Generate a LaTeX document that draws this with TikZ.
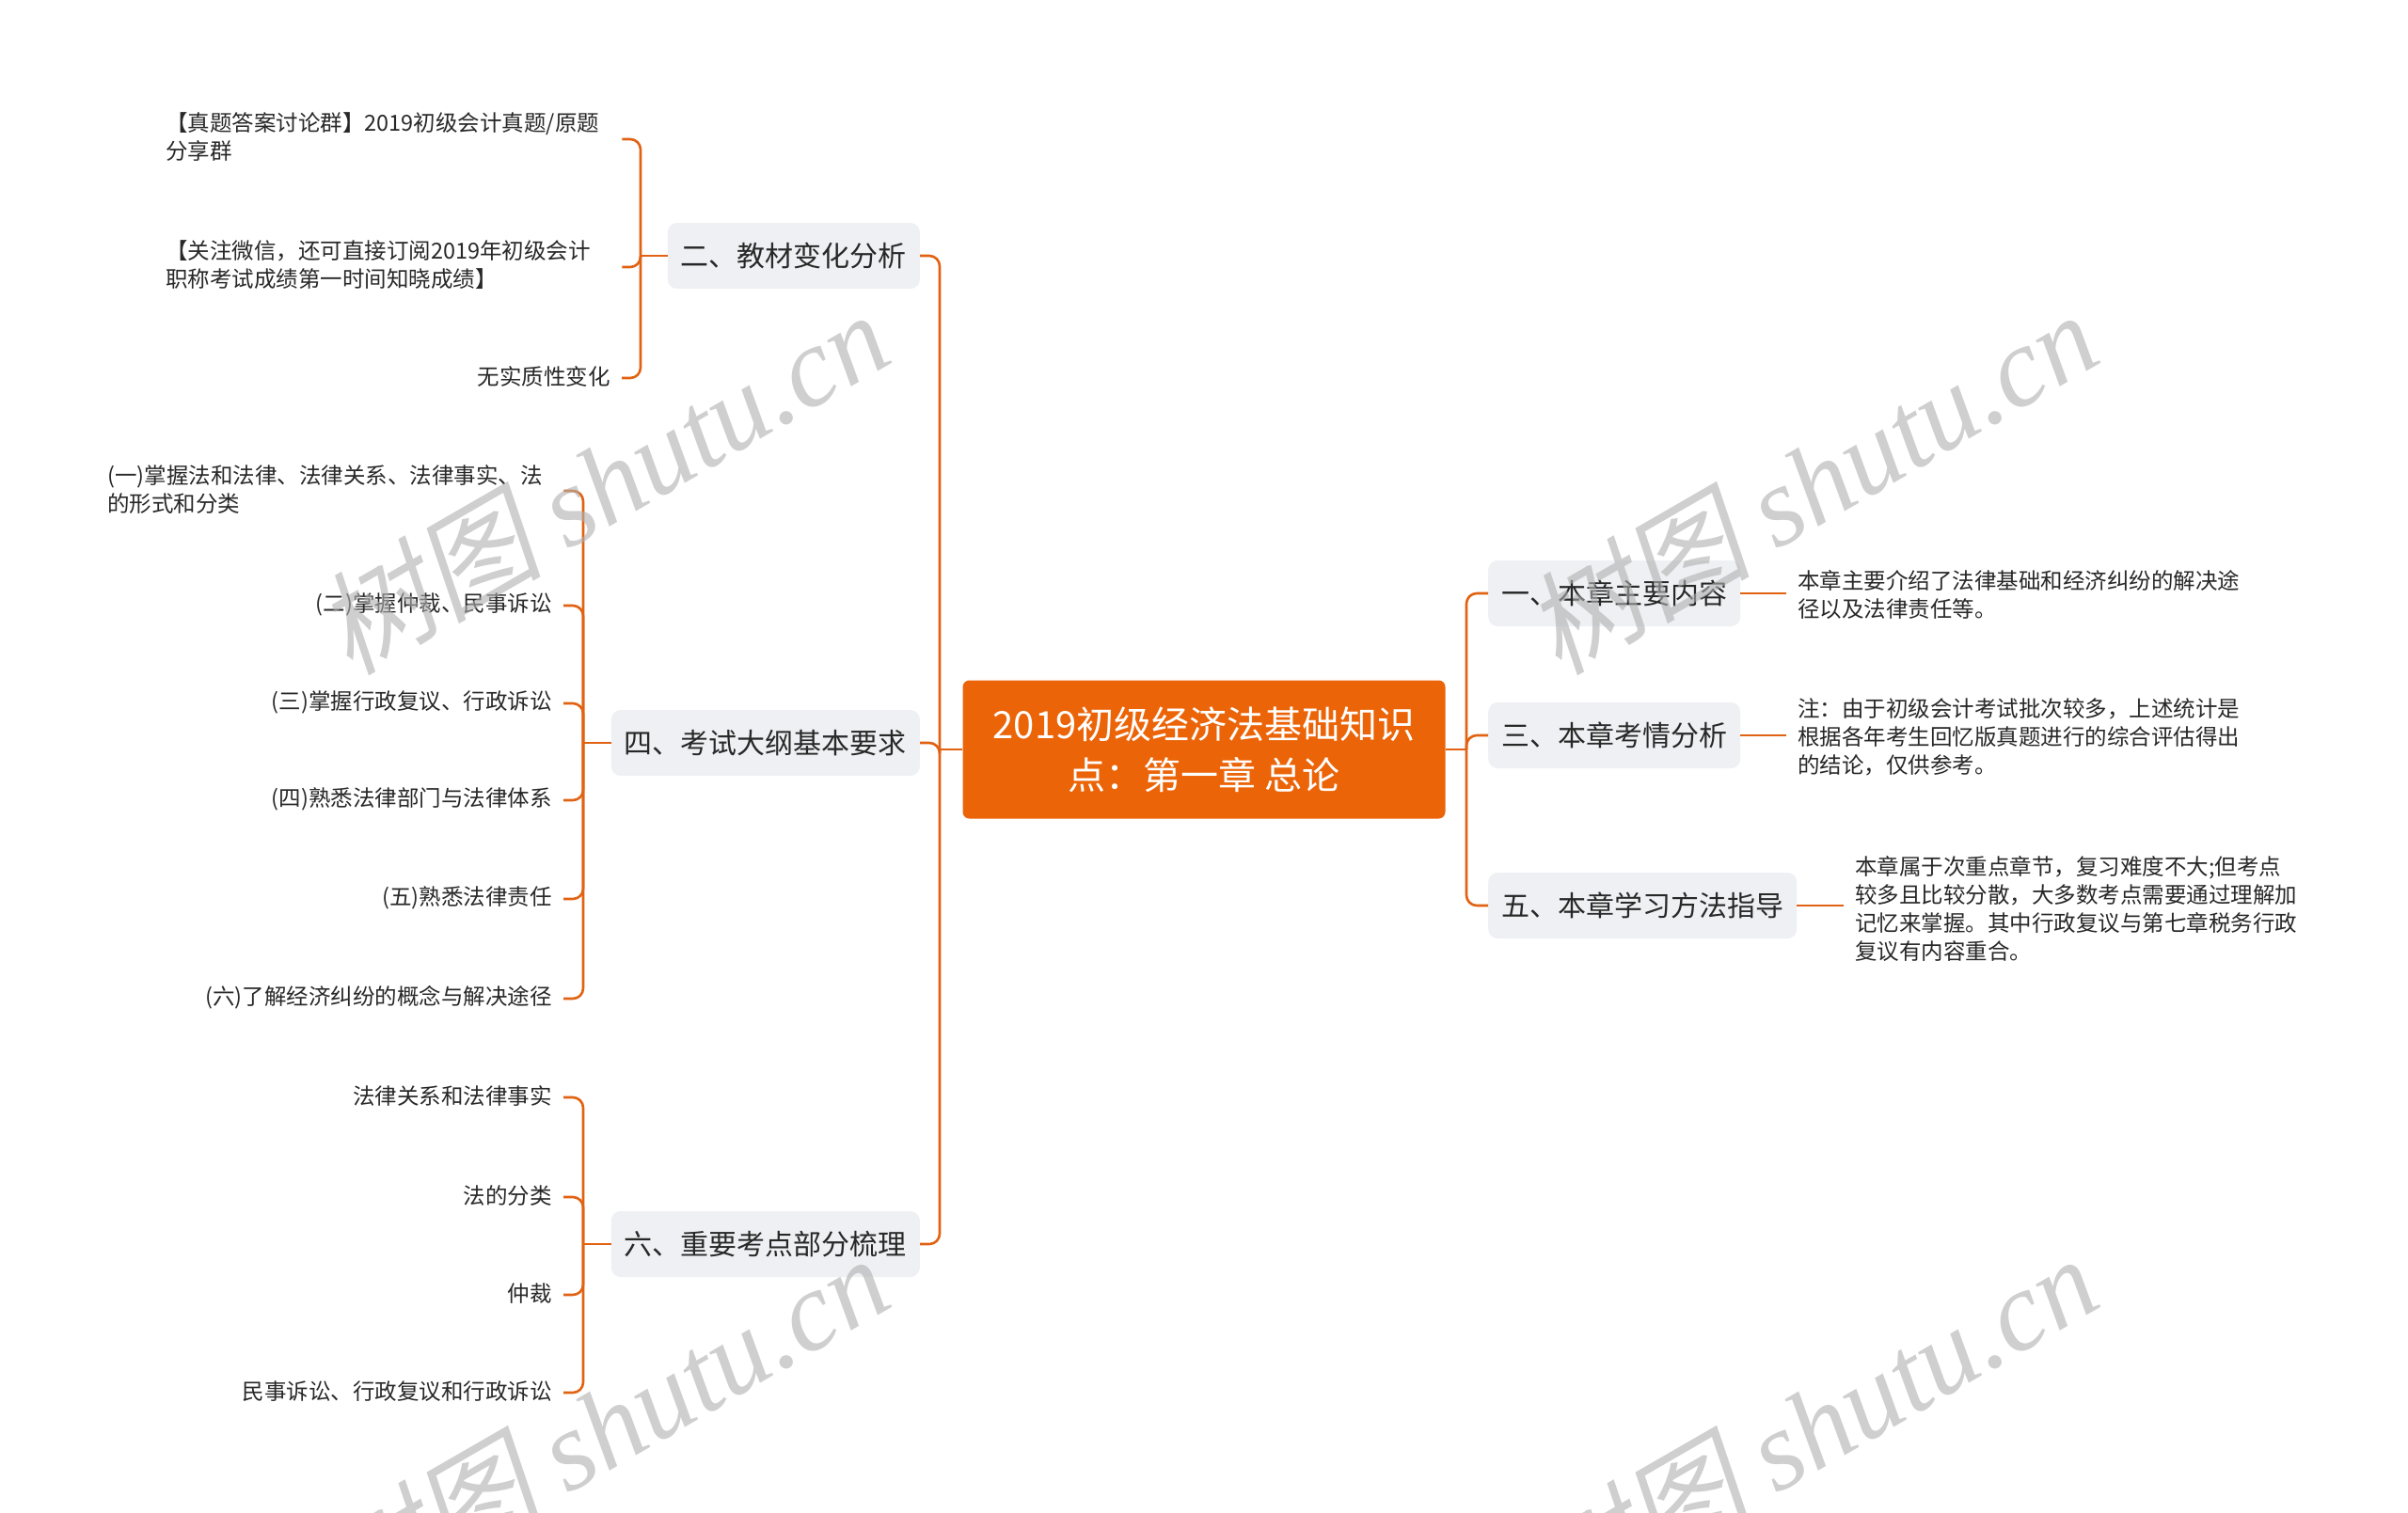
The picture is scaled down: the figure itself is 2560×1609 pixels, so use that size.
\documentclass[tikz,border=0pt]{standalone}
\usepackage{fontspec}
\setmainfont{Noto Sans CJK SC}
\newfontfamily\wmlatin{Liberation Serif}
\newfontfamily\wmcjk[FakeSlant=0.2]{Noto Sans CJK SC}
\definecolor{lineor}{RGB}{225,98,18}
\definecolor{rootor}{RGB}{236,100,8}
\definecolor{boxgray}{RGB}{238,240,243}
\definecolor{txt}{RGB}{40,40,40}
\definecolor{wm}{RGB}{175,175,175}
\tikzset{
  conn/.style={draw=lineor, line width=2.6pt, rounded corners=11pt},
  rootbox/.style={fill=rootor, rounded corners=7pt, text=white, minimum width=513pt, minimum height=147pt, align=center, font=\fontsize{40}{54}\selectfont, inner sep=0pt},
  topic/.style={fill=boxgray, rounded corners=10pt, text=txt, minimum height=70pt, inner xsep=14pt, inner ysep=0pt, font=\fontsize{30}{36}\selectfont},
  leaf/.style={text=txt, font=\fontsize{23.5}{30}\selectfont, inner ysep=2pt, inner xsep=12pt},
  leafml/.style={leaf, align=left, inner xsep=0pt, text width=485pt, anchor=west},
  leafr/.style={leaf, align=left, anchor=west},
  wmark/.style={text=wm, opacity=0.6, rotate=30, inner sep=0pt, font=\fontsize{120}{130}\selectfont}
}
\begin{document}
\begin{tikzpicture}[x=1pt,y=-1pt]
\useasboundingbox (0,0) rectangle (2560,1609);
\fill[white] (0,0) rectangle (2560,1609);

% root
\node[rootbox] (root) at (1280,797) {2019初级经济法基础知识\\点：第一章 总论};
\coordinate (LT) at (999,797);
\coordinate (RT) at (1559,797);

% left topics
\node[topic, anchor=east] (n2) at (978,272) {二、教材变化分析};
\node[topic, anchor=east] (n4) at (978,790) {四、考试大纲基本要求};
\node[topic, anchor=east] (n6) at (978,1323) {六、重要考点部分梳理};

% right topics
\node[topic, anchor=west] (n1) at (1582,631) {一、本章主要内容};
\node[topic, anchor=west] (n3) at (1582,782) {三、本章考情分析};
\node[topic, anchor=west] (n5) at (1582,963) {五、本章学习方法指导};

% group 2 leaves
\coordinate (b2) at (681,272);
\node[leafml] (l21) at (176,146) {【真题答案讨论群】2019初级会计真题/原题\\分享群};
\node[leafml] (l22) at (176,282) {【关注微信，还可直接订阅2019年初级会计\\职称考试成绩第一时间知晓成绩】};
\node[leaf, anchor=east] (l23) at (661,400) {无实质性变化};

% group 4 leaves
\coordinate (b4) at (620,790);
\node[leafml] (l41) at (114,521) {(一)掌握法和法律、法律关系、法律事实、法\\的形式和分类};
\node[leaf, anchor=east] (l42) at (599,643) {(二)掌握仲裁、民事诉讼};
\node[leaf, anchor=east] (l43) at (599,747) {(三)掌握行政复议、行政诉讼};
\node[leaf, anchor=east] (l44) at (599,850) {(四)熟悉法律部门与法律体系};
\node[leaf, anchor=east] (l45) at (599,955) {(五)熟悉法律责任};
\node[leaf, anchor=east] (l46) at (599,1061) {(六)了解经济纠纷的概念与解决途径};

% group 6 leaves
\coordinate (b6) at (620,1323);
\node[leaf, anchor=east] (l61) at (599,1166) {法律关系和法律事实};
\node[leaf, anchor=east] (l62) at (599,1272) {法的分类};
\node[leaf, anchor=east] (l63) at (599,1376) {仲裁};
\node[leaf, anchor=east] (l64) at (599,1480) {民事诉讼、行政复议和行政诉讼};

% right leaves
\node[leafr] (r1) at (1899,632) {本章主要介绍了法律基础和经济纠纷的解决途\\径以及法律责任等。};
\node[leafr] (r3) at (1899,784) {注：由于初级会计考试批次较多，上述统计是\\根据各年考生回忆版真题进行的综合评估得出\\的结论，仅供参考。};
\node[leafr] (r5) at (1960,966) {本章属于次重点章节，复习难度不大;但考点\\较多且比较分散，大多数考点需要通过理解加\\记忆来掌握。其中行政复议与第七章税务行政\\复议有内容重合。};

% trunk connectors
\draw[conn] (root.west) -- (LT);
\draw[conn] (LT) |- (n2.east);
\draw[conn] (LT) |- (n4.east);
\draw[conn] (LT) |- (n6.east);
\draw[conn] (root.east) -- (RT);
\draw[conn] (RT) |- (n1.west);
\draw[conn] (RT) |- (n3.west);
\draw[conn] (RT) |- (n5.west);

% group connectors
\draw[conn] (n2.west) -- (b2);
\foreach \l in {l21,l22,l23} \draw[conn] (b2) |- ([yshift=-2pt]\l.east);
\draw[conn] (n4.west) -- (b4);
\foreach \l in {l41,l42,l43,l44,l45,l46} \draw[conn] (b4) |- ([yshift=-1pt]\l.east);
\draw[conn] (n6.west) -- (b6);
\foreach \l in {l61,l62,l63,l64} \draw[conn] (b6) |- ([yshift=-1pt]\l.east);

\draw[conn] (n1.east) -- (n1.east -| r1.west);
\draw[conn] (n3.east) -- (n3.east -| r3.west);
\draw[conn] (n5.east) -- (n5.east -| r5.west);

% watermarks
\begin{scope}
\clip (0,0) rectangle (2560,1609);
\node[wmark] (w1) at (640,512) {{\wmcjk 树图} {\wmlatin\itshape shutu.cn}};
\node[wmark] (w2) at (1925,512) {{\wmcjk 树图} {\wmlatin\itshape shutu.cn}};
\node[wmark] (w3) at (640,1516) {{\wmcjk 树图} {\wmlatin\itshape shutu.cn}};
\node[wmark] (w4) at (1925,1516) {{\wmcjk 树图} {\wmlatin\itshape shutu.cn}};
\end{scope}
\end{tikzpicture}
\end{document}
